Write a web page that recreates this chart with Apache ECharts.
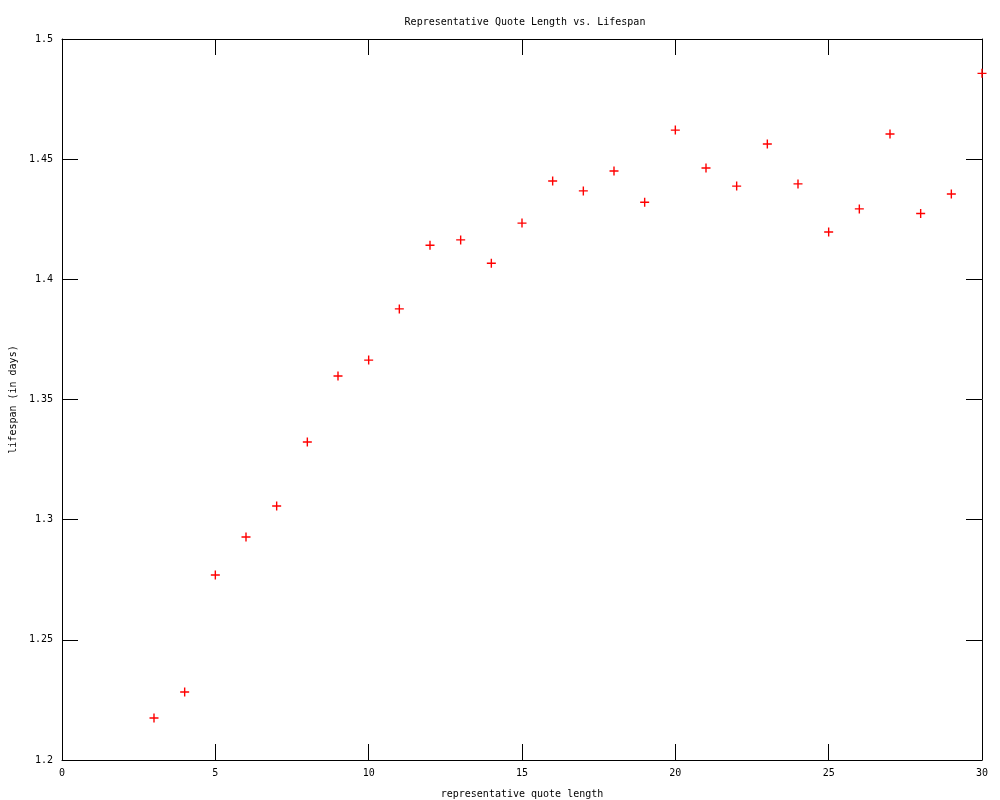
<!DOCTYPE html>
<html>
<head>
<meta charset="utf-8">
<script src="https://cdn.jsdelivr.net/npm/echarts@6/dist/echarts.min.js"></script>
<style>html,body{margin:0;padding:0;background:#fff}#c{width:1000px;height:800px}</style>
</head>
<body>
<div id="c"></div>
<script>
var quoteLength = [3,4,5,6,7,8,9,10,11,12,13,14,15,16,17,18,19,20,21,22,23,24,25,26,27,28,29,30];
var lifespan = [1.2175,1.2283,1.2770,1.2928,1.3057,1.3323,1.3598,1.3664,1.3877,1.4142,1.4164,1.4067,1.4234,1.4409,1.4368,1.4451,1.4321,1.4621,1.4463,1.4388,1.4563,1.4397,1.4197,1.4293,1.4605,1.4274,1.4355,1.4857];
var titleText = 'Representative Quote Length vs. Lifespan';
var xName = 'representative quote length';
var yName = 'lifespan (in days)';

var font = 'DejaVu Sans Mono';
var chart = echarts.init(document.getElementById('c'), null, {renderer:'canvas'});
var pts = quoteLength.map(function(x,i){return [x, lifespan[i]];});
var plus = 'path://M38,0h14v38h38v14h-38v38h-14v-38h-38v-14h38z';
function xAx(pos, show){
  return {type:'value', position:pos, min:0, max:30, interval:5,
    axisLine:{show:true, onZero:false, lineStyle:{color:'#000', width:1}},
    axisTick:{show:true, inside:true, length:16, lineStyle:{color:'#000'}},
    axisLabel:{show:show, color:'#000', fontFamily:font, fontSize:10, margin:8},
    splitLine:{show:false},
    name: show ? xName : '', nameLocation:'middle', nameGap:29,
    nameTextStyle:{color:'#000', fontFamily:font, fontSize:10}};
}
function yAx(pos, show){
  return {type:'value', position:pos, min:1.2, max:1.5, interval:0.05,
    axisLine:{show:true, onZero:false, lineStyle:{color:'#000', width:1}},
    axisTick:{show:true, inside:true, length:16, lineStyle:{color:'#000'}},
    axisLabel:{show:show, color:'#000', fontFamily:font, fontSize:10, margin:9,
      formatter:function(v){return String(+v.toFixed(2));}},
    splitLine:{show:false},
    name: show ? yName : '', nameLocation:'middle', nameGap:44,
    nameTextStyle:{color:'#000', fontFamily:font, fontSize:10}};
}
chart.setOption({
  backgroundColor:'#fff',
  animation:false,
  title:{text:titleText, left:520, textAlign:'center', top:12,
    textStyle:{color:'#000', fontFamily:font, fontSize:10, fontWeight:'normal'}},
  grid:{left:62, right:18, top:39, bottom:40, containLabel:false, outerBoundsMode:'none'},
  xAxis:[xAx('bottom', true), xAx('top', false)],
  yAxis:[yAx('left', true), yAx('right', false)],
  series:[{type:'scatter', data:pts, xAxisIndex:0, yAxisIndex:0,
    symbol:plus, symbolSize:9, clip:false,
    itemStyle:{color:'#ff0000', opacity:1}}]
});
</script>
</body>
</html>
